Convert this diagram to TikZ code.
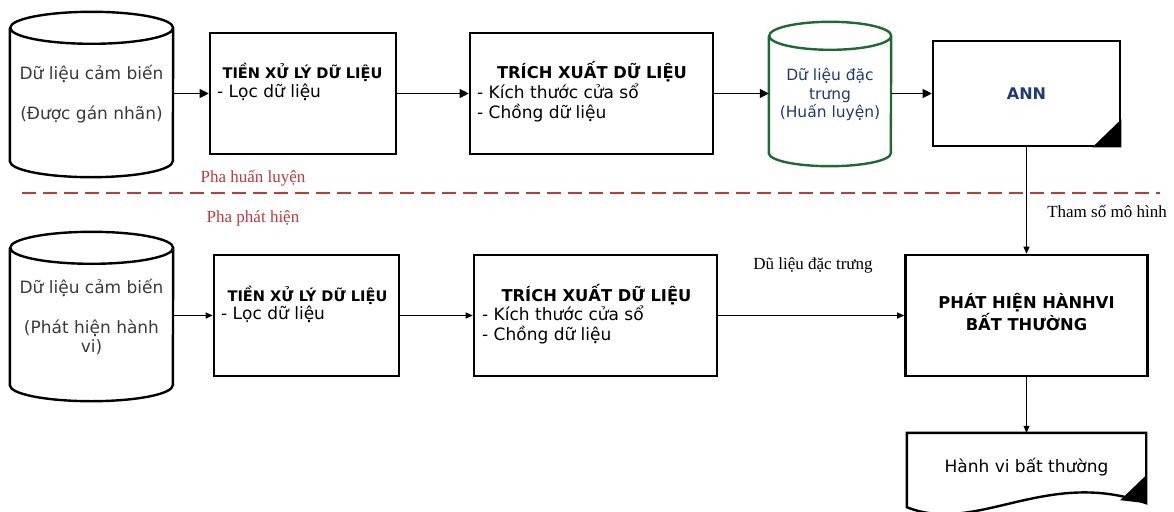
\documentclass[tikz,border=0pt]{standalone}
\usepackage{fontspec}
\setmainfont{DejaVu Sans}
\newfontfamily\phasefont{Liberation Serif}
\usetikzlibrary{arrows.meta, calc}
\definecolor{cInk}  {HTML}{3A3A3A}
\definecolor{cPhase}{HTML}{C0393B}
\definecolor{cStore}{HTML}{1E6B32}
\definecolor{cNavy} {HTML}{1F3B73}
\tikzset{
  procbox/.style={draw=black, line width=2.6pt, fill=white, minimum height=121pt},
  dbbody/.style={inner sep=0pt, align=center, text=cInk},
  dbline/.style={line width=2.4pt, draw=black},
  boxtitle/.style={inner sep=0pt, anchor=base, align=center, font=\bfseries\fontsize{16.3}{19}\selectfont},
  boxitem/.style={inner sep=0pt, anchor=base west, align=left, font=\fontsize{17}{20}\selectfont},
  phaselabel/.style={inner sep=0pt, anchor=base, text=cPhase, font=\phasefont\fontsize{17}{20}\selectfont},
  edgelabel/.style={inner sep=0pt, anchor=base, font=\phasefont\fontsize{17}{20}\selectfont},
  flow/.style={-{Triangle[length=9pt,width=9pt]}, line width=1.1pt},
  flowsm/.style={-{Triangle[length=7pt,width=6pt]}, line width=1pt},
}
\begin{document}
\begin{tikzpicture}[x=1pt, y=-1pt]
  \useasboundingbox (0,0) rectangle (1174,511);

  % training row
  \node[dbbody, minimum width=163pt, minimum height=133pt, font=\fontsize{17}{20}\selectfont]
        (src1) at (91.5,94.5) {Dữ liệu cảm biến\\[20pt](Được gán nhãn)};
  \draw[dbline] (src1.north west) -- (src1.south west)
        arc[start angle=180, end angle=360, x radius=81.5pt, y radius=16pt] -- (src1.north east)
        arc[start angle=0, end angle=360, x radius=81.5pt, y radius=16pt];

  \node[procbox, minimum width=186pt] (pre1) at (303,93.5) {};
  \node[boxtitle, font=\bfseries\fontsize{14.6}{17}\selectfont] (pre1t) at (302.5,78) {TIỀN XỬ LÝ DỮ LIỆU};
  \node[boxitem] (pre1i) at (217,97) {- Lọc dữ liệu};

  \node[procbox, minimum width=243pt] (ext1) at (591.5,93.5) {};
  \node[boxtitle] (ext1t) at (592,78) {TRÍCH XUẤT DỮ LIỆU};
  \node[boxitem] (ext1i) at (477,118) {- Kích thước cửa sổ\\- Chồng dữ liệu};

  \node[dbbody, minimum width=122pt, minimum height=117pt, text=cNavy, font=\fontsize{15.5}{18.5}\selectfont]
        (feat) at (830,94.5) {Dữ liệu đặc\\trưng\\(Huấn luyện)};
  \draw[dbline, draw=cStore] (feat.north west) -- (feat.south west)
        arc[start angle=180, end angle=360, x radius=61pt, y radius=13pt] -- (feat.north east)
        arc[start angle=0, end angle=360, x radius=61pt, y radius=14pt];

  \node[procbox, minimum width=187pt, minimum height=105pt, text=cNavy, font=\bfseries\fontsize{16}{19}\selectfont]
        (ann) at (1026.5,93.5) {ANN};
  \fill (ann.south east) -- ++(-29,0) -- ++(29,-28) -- cycle;

  \draw[flow] (src1.east |- pre1.west) -- (pre1.west);
  \draw[flow] (pre1.east) -- (ext1.west);
  \draw[flow] (ext1.east) -- (feat.west |- ext1.east);
  \draw[flow] (feat.east |- ann.west) -- (ann.west);

  % phase split
  \draw[cPhase, line width=1.3pt, dash pattern=on 14pt off 7pt] (22,193) -- (1160,193);
  \node[phaselabel] (phtrain) at (253,182) {Pha huấn luyện};
  \node[phaselabel] (phdetect) at (253,222) {Pha phát hiện};

  % detection row
  \node[dbbody, minimum width=163pt, minimum height=137pt, font=\fontsize{17}{18.5}\selectfont]
        (src2) at (91.5,316.5) {Dữ liệu cảm biến\\[22pt](Phát hiện hành\\vi)};
  \draw[dbline] (src2.north west) -- (src2.south west)
        arc[start angle=180, end angle=360, x radius=81.5pt, y radius=16pt] -- (src2.north east)
        arc[start angle=0, end angle=360, x radius=81.5pt, y radius=16pt];

  \node[procbox, minimum width=185pt] (pre2) at (306.5,315.5) {};
  \node[boxtitle, font=\bfseries\fontsize{14.6}{17}\selectfont] (pre2t) at (307.5,301) {TIỀN XỬ LÝ DỮ LIỆU};
  \node[boxitem] (pre2i) at (221,319) {- Lọc dữ liệu};

  \node[procbox, minimum width=243pt] (ext2) at (595.5,315.5) {};
  \node[boxtitle] (ext2t) at (596.5,301) {TRÍCH XUẤT DỮ LIỆU};
  \node[boxitem] (ext2i) at (482,340) {- Kích thước cửa sổ\\- Chồng dữ liệu};

  \node[procbox, minimum width=242pt] (detect) at (1026.5,315.5) {};
  \node[boxtitle] (detectt) at (1026.5,330) {PHÁT HIỆN HÀNHVI\\BẤT THƯỜNG};

  \node[inner sep=0pt, minimum width=239pt, minimum height=74pt, text height=10pt, text depth=6pt,
        font=\fontsize{17}{20}\selectfont] (alert) at (1026.5,470) {Hành vi bất thường};
  \draw[line width=2.4pt] (alert.north west) -- (alert.north east) -- ($(alert.south east)+(0,-4)$)
        .. controls ($(alert.south east)+(-100,-40)$) and ($(alert.south west)+(70,28)$) .. (alert.south west) -- cycle;
  \fill ($(alert.south east)+(-26,-7)$) -- ($(alert.south east)+(0,-32)$) -- ($(alert.south east)+(0,-4)$) -- cycle;

  \draw[flowsm] (src2.east |- pre2.west) -- (pre2.west);
  \draw[flowsm] (pre2.east) -- (ext2.west);
  \draw[flowsm] (ext2.east) -- (detect.west);
  \node[edgelabel] (featlbl) at (813,269) {Dũ liệu đặc trưng};

  \draw[flowsm] (ann.south) -- (detect.north);
  \node[edgelabel] (paramlbl) at (1107,217) {Tham số mô hình};
  \draw[flowsm] (detect.south) -- (alert.north);
\end{tikzpicture}
\end{document}
